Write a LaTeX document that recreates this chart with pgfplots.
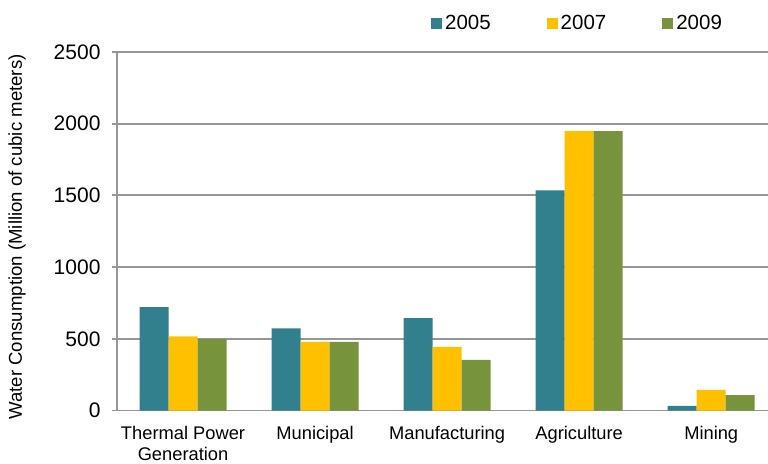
\documentclass[border=0pt]{standalone}
\usepackage{fontspec}
\setmainfont{Liberation Sans}
\usepackage{pgfplots}
\pgfplotsset{compat=1.18}
\definecolor{cA}{RGB}{50,127,142}
\definecolor{cB}{RGB}{255,192,0}
\definecolor{cC}{RGB}{119,147,60}
\definecolor{gridc}{RGB}{150,150,150}
\begin{document}
\begin{tikzpicture}
\path[use as bounding box] (-117pt,-52.5pt) rectangle (651pt,410.5pt);
\begin{axis}[
  at={(0,0)}, anchor=south west,
  scale only axis, width=651pt, height=358.5pt,
  xmin=-0.5, xmax=4.43, ymin=0, ymax=2500,
  ybar=0pt, bar width=29pt,
  ytick={0,500,1000,1500,2000,2500},
  xtick={0,1,2,3,4},
  xticklabels={Thermal Power\\Generation, Municipal, Manufacturing, Agriculture, Mining},
  xticklabel style={align=center, font=\fontsize{18.3}{21}\selectfont, yshift=-7pt},
  yticklabel style={font=\fontsize{21}{24}\selectfont, xshift=-8pt},
  /pgf/number format/assume math mode=true,
  /pgf/number format/1000 sep={},
  axis x line=bottom, axis y line=left,
  axis line style={draw=gridc, line width=1.8pt, -},
  major x tick style={draw=none},
  major y tick style={draw=gridc, line width=1.8pt},
  tick align=outside, major tick length=5pt,
  ymajorgrids, major grid style={draw=gridc, line width=1.8pt},
  ylabel={Water Consumption (Million of cubic meters)},
  ylabel style={at={(axis description cs:-0.1536,0.484)}, anchor=center, font=\fontsize{18.6}{22}\selectfont},
  legend columns=3,
  legend style={at={(0.7074,1.0795)}, anchor=center, draw=none, fill=none,
    font=\fontsize{20.5}{23}\selectfont,
    /tikz/every even column/.append style={column sep=54pt},
    /tikz/every odd column/.append style={column sep=1pt}},
  legend image code/.code={\fill[#1] (0pt,-5.5pt) rectangle (11pt,5.5pt);},
]
\addplot[fill=cA, draw=none] coordinates {(0,721) (1,572) (2,645) (3,1535) (4,33)};
\addplot[fill=cB, draw=none] coordinates {(0,517) (1,479) (2,443) (3,1948) (4,143)};
\addplot[fill=cC, draw=none] coordinates {(0,498) (1,479) (2,353) (3,1948) (4,107)};
\legend{2005,2007,2009}
\end{axis}
\end{tikzpicture}
\end{document}
